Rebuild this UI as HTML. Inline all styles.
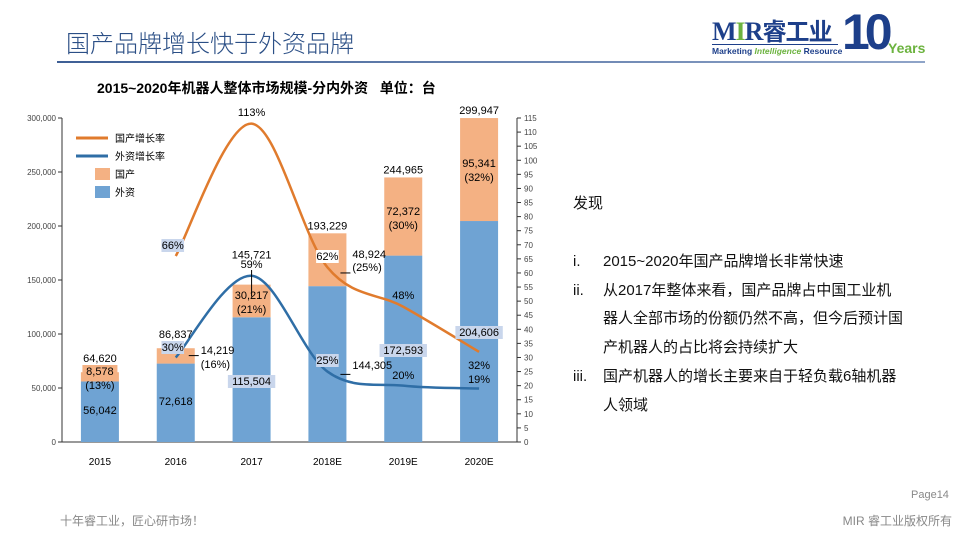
<!DOCTYPE html>
<html><head><meta charset="utf-8"><style>
body{margin:0;width:960px;height:540px;overflow:hidden;background:#fff;font-family:"Liberation Sans","Noto Sans CJK SC",sans-serif;position:relative}
.abs{position:absolute;white-space:nowrap}
</style></head><body>
<div class="abs" style="left:66px;top:24px;font-size:24px;color:#2b4f86;font-family:'Liberation Sans','Noto Sans CJK SC',sans-serif;font-weight:300">国产品牌增长快于外资品牌</div>
<div class="abs" style="left:57px;top:61px;width:868px;height:2px;background:linear-gradient(90deg,#3e5f95,#8fa4c8)"></div>
<div class="abs" style="left:710px;top:6px;width:220px;height:56px">
  <div class="abs" style="left:2px;top:6px;font-family:'Liberation Serif',serif;font-weight:bold;font-size:26px;color:#1d3f8a;letter-spacing:-1px">M<span style="color:#6cb33f">I</span>R<span style="font-family:'Noto Sans CJK SC',sans-serif;font-size:24px">睿工业</span></div>
  <div class="abs" style="left:2px;top:38px;width:126px;border-top:1.5px solid #1d3f8a"></div>
  <div class="abs" style="left:2px;top:40px;font-size:8.5px;font-weight:bold;color:#1d3f8a">Marketing <i style="color:#6cb33f">Intelligence</i> Resource</div>
  <div class="abs" style="left:132px;top:-3px;font-size:50px;font-weight:bold;color:#1d3f8a;letter-spacing:-5px">10</div>
  <div class="abs" style="left:178px;top:34px;font-size:14px;font-weight:bold;color:#6cb33f">Years</div>
</div>
<div class="abs" style="left:97px;top:78px;font-size:14px;font-weight:bold;color:#000">2015~2020年机器人整体市场规模-分内外资&nbsp;&nbsp;&nbsp;单位：台</div>

<svg id="chart" width="960" height="540" style="position:absolute;left:0;top:0" xmlns="http://www.w3.org/2000/svg"></svg>

<div class="abs" style="left:573px;top:190px;font-size:15px;color:#111;line-height:28.8px">
  <div>发现</div>
  <div style="height:29px"></div>
  <div><span style="display:inline-block;width:30px">i.</span>2015~2020年国产品牌增长非常快速</div>
  <div><span style="display:inline-block;width:30px">ii.</span>从2017年整体来看，国产品牌占中国工业机<br><span style="display:inline-block;width:30px"></span>器人全部市场的份额仍然不高，但今后预计国<br><span style="display:inline-block;width:30px"></span>产机器人的占比将会持续扩大</div>
  <div><span style="display:inline-block;width:30px">iii.</span>国产机器人的增长主要来自于轻负载6轴机器<br><span style="display:inline-block;width:30px"></span>人领域</div>
</div>
<div class="abs" style="left:60px;top:512px;font-size:12px;color:#888">十年睿工业，匠心研市场！</div>
<div class="abs" style="left:911px;top:489px;font-size:11px;color:#888">Page14</div>
<div class="abs" style="right:8px;top:512px;font-size:12px;color:#888">MIR 睿工业版权所有</div>

<script>
const categories=['2015','2016','2017','2018E','2019E','2020E'];
const foreignVals=[56042,72618,115504,144305,172593,204606];
const domesticVals=[8578,14219,30217,48924,72372,95341];
const totalVals=[64620,86837,145721,193229,244965,299947];
const domesticShare=['13%','16%','21%','25%','30%','32%'];
const domesticGrowth=[null,66,113,62,48,32];
const foreignGrowth=[null,30,59,25,20,19];
const leftTicks=[0,50000,100000,150000,200000,250000,300000];
const rightTicks=[0,5,10,15,20,25,30,35,40,45,50,55,60,65,70,75,80,85,90,95,100,105,110,115];

const svg=document.getElementById('chart');
const NS='http://www.w3.org/2000/svg';
const X0=62,X1=517,Y0=442,Y1=118;
const band=(X1-X0)/categories.length;
const xc=i=>X0+band*(i+0.5);
const yL=v=>Y0-(v/300000)*(Y0-Y1);
const yR=v=>Y0-(v/115)*(Y0-Y1);
const fmt=v=>v.toLocaleString('en-US');
function el(tag,attrs,parent){const e=document.createElementNS(NS,tag);for(const k in attrs)e.setAttribute(k,attrs[k]);(parent||svg).appendChild(e);return e;}
function txt(x,y,s,size,anchor,fill,parent){const t=el('text',{x:x,y:y,'font-size':size,'text-anchor':anchor||'middle',fill:fill||'#000','font-family':'Liberation Sans, Noto Sans CJK SC, sans-serif'},parent);t.textContent=s;return t;}
function boxTxt(x,y,s,bg){const w=s.length*6.2+4;const r=el('rect',{x:x-w/2,y:y-10,width:w,height:13,fill:bg});const t=txt(x,y,s,11);}

// axes
const ax=el('g',{});
el('line',{x1:X0,y1:Y1,x2:X0,y2:Y0,stroke:'#333','stroke-width':1},ax);
el('line',{x1:X0,y1:Y0,x2:X1,y2:Y0,stroke:'#333','stroke-width':1},ax);
el('line',{x1:X1,y1:Y1,x2:X1,y2:Y0,stroke:'#333','stroke-width':1},ax);
leftTicks.forEach(v=>{el('line',{x1:X0-4,y1:yL(v),x2:X0,y2:yL(v),stroke:'#333'},ax);const t=txt(X0-6,yL(v)+3,fmt(v),8,'end','#444',ax);});
rightTicks.forEach(v=>{el('line',{x1:X1,y1:yR(v),x2:X1+4,y2:yR(v),stroke:'#333'},ax);const t=txt(X1+7,yR(v)+3,String(v),8,'start','#444',ax);});
categories.forEach((c,i)=>{const t=txt(xc(i),465,c,10,'middle','#000',ax);});

// bars
const bw=38;
categories.forEach((c,i)=>{
  const f=el('rect',{x:xc(i)-bw/2,y:yL(foreignVals[i]),width:bw,height:Y0-yL(foreignVals[i]),fill:'#6fa3d3'});
  
  const d=el('rect',{x:xc(i)-bw/2,y:yL(foreignVals[i]+domesticVals[i]),width:bw,height:yL(foreignVals[i])-yL(foreignVals[i]+domesticVals[i]),fill:'#f4b183'});
  
});

// smooth lines
function path(vals,color,name){
  const pts=[];vals.forEach((v,i)=>{if(v!=null)pts.push([xc(i),yR(v)]);});
  let d='M'+pts[0][0]+','+pts[0][1];
  for(let i=0;i<pts.length-1;i++){const p0=pts[i-1]||pts[i],p1=pts[i],p2=pts[i+1],p3=pts[i+2]||p2;const k=1/6;
    d+=' C'+(p1[0]+(p2[0]-p0[0])*k)+','+(p1[1]+(p2[1]-p0[1])*k)+' '+(p2[0]-(p3[0]-p1[0])*k)+','+(p2[1]-(p3[1]-p1[1])*k)+' '+p2[0]+','+p2[1];}
  const p=el('path',{d:d,fill:'none',stroke:color,'stroke-width':2.5});
}
path(foreignGrowth,'#2f6ea6','line-foreign-growth');
path(domesticGrowth,'#e07b2d','line-domestic-growth');

// value labels
const lb='#c9d6ec';
categories.forEach((c,i)=>{
  const x=xc(i);
  let ty=yL(totalVals[i])-4;
  if(i===0) ty=362;
  if(i===1) ty=338;
  if(i===2) ty=yL(totalVals[i])-26;
  let t=txt(x,ty,fmt(totalVals[i]),11);
});
function dom(i,x,y1,bg){if(bg){boxTxt(x,y1,fmt(domesticVals[i]),bg);}else{const t=txt(x,y1,fmt(domesticVals[i]),11);}
  const t2=txt(x,y1+14,'('+domesticShare[i]+')',11);}
boxTxt(xc(0),375,fmt(domesticVals[0]),'#f4b183');
{const t2=txt(xc(0),389,'('+domesticShare[0]+')',11);}
el('line',{x1:xc(1)+bw/2-6,y1:yL(80000),x2:xc(1)+bw/2+4,y2:yL(80000),stroke:'#000'});
{const t=txt(xc(1)+bw/2+6,354,fmt(domesticVals[1]),11,'start');const t2=txt(xc(1)+bw/2+6,368,'('+domesticShare[1]+')',11,'start');}
dom(2,xc(2),299);
el('line',{x1:xc(3)+bw/2-6,y1:yR(60),x2:xc(3)+bw/2+4,y2:yR(60),stroke:'#000'});
{const t=txt(xc(3)+bw/2+6,258,fmt(domesticVals[3]),11,'start');const t2=txt(xc(3)+bw/2+6,271,'('+domesticShare[3]+')',11,'start');}
dom(4,xc(4),215);
dom(5,xc(5),167);
{let t=txt(xc(0),414,fmt(foreignVals[0]),11);
 t=txt(xc(1),405,fmt(foreignVals[1]),11);}
boxTxt(xc(2),385,fmt(foreignVals[2]),lb);
el('line',{x1:xc(3)+bw/2-6,y1:yR(24),x2:xc(3)+bw/2+4,y2:yR(24),stroke:'#000'});
{const t=txt(xc(3)+bw/2+6,369,fmt(foreignVals[3]),11,'start');}
boxTxt(xc(4),354,fmt(foreignVals[4]),lb);
boxTxt(xc(5),336,fmt(foreignVals[5]),lb);
boxTxt(xc(1)-3,249,domesticGrowth[1]+'%',lb);
boxTxt(xc(1)-3,351,foreignGrowth[1]+'%',lb);
{const t=txt(xc(2),116,domesticGrowth[2]+'%',11);
 const t2=txt(xc(2),268,foreignGrowth[2]+'%',11);
 el('line',{x1:xc(2),y1:270,x2:xc(2),y2:yL(totalVals[2])+12,stroke:'#000'});}
boxTxt(xc(3),260,domesticGrowth[3]+'%','#fff');
boxTxt(xc(3),364,foreignGrowth[3]+'%',lb);
{let t=txt(xc(4),299,domesticGrowth[4]+'%',11);
 t=txt(xc(4),379,foreignGrowth[4]+'%',11);
 t=txt(xc(5),369,domesticGrowth[5]+'%',11);
 t=txt(xc(5),383,foreignGrowth[5]+'%',11);}

// legend
const lg=el('g',{});
el('line',{x1:76,y1:138,x2:108,y2:138,stroke:'#e07b2d','stroke-width':3},lg);txt(115,142,'国产增长率',10,'start','#000',lg);
el('line',{x1:76,y1:156,x2:108,y2:156,stroke:'#2f6ea6','stroke-width':3},lg);txt(115,160,'外资增长率',10,'start','#000',lg);
el('rect',{x:95,y:168,width:15,height:12,fill:'#f4b183'},lg);txt(115,178,'国产',10,'start','#000',lg);
el('rect',{x:95,y:186,width:15,height:12,fill:'#6fa3d3'},lg);txt(115,196,'外资',10,'start','#000',lg);
</script>
</body></html>
